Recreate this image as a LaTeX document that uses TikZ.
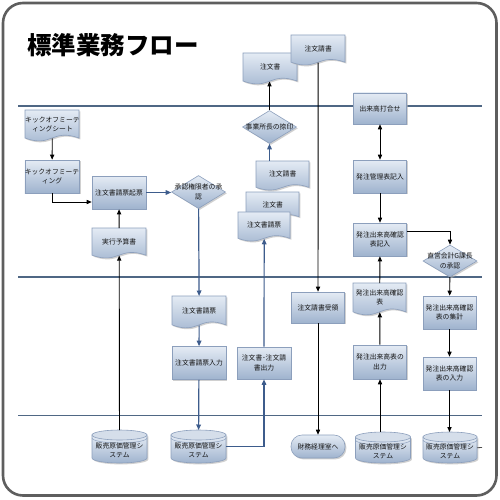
\documentclass[tikz,border=0pt]{standalone}
\usepackage{fontspec}
\setmainfont{Noto Sans CJK JP}
\usetikzlibrary{shapes.geometric,shadows,arrows.meta}
\definecolor{nodetop}{HTML}{E4EBF4}
\definecolor{nodebot}{HTML}{9FB3CE}
\definecolor{nodeedge}{HTML}{8C9FBC}
\definecolor{cyltopcol}{HTML}{D5DEEA}
\definecolor{flowblue}{HTML}{3D5C8C}
\definecolor{lanecol}{HTML}{4F6784}
\definecolor{framecol}{HTML}{5E5E5E}
\definecolor{textcol}{HTML}{141414}
\newcommand\nodefont{\fontsize{6.8}{9.4}\selectfont}
\newcommand\titlefnt{\fontsize{24.5}{27}\selectfont\bfseries}
\tikzset{
  shapefill/.style={top color=nodetop, bottom color=nodebot, draw=nodeedge, line width=0.6pt,
    drop shadow={shadow xshift=1.4pt, shadow yshift=-1.4pt, fill=black!30, opacity=0.6}},
  lblnode/.style={inner sep=0pt, align=center, font=\nodefont, text=textcol},
  proc/.style={shapefill, rectangle, minimum width=54pt, minimum height=33pt, lblnode},
  diam/.style={shapefill, diamond, minimum width=54pt, minimum height=33pt, inner sep=0pt},
  term/.style={shapefill, rectangle, rounded corners=11pt, minimum width=54pt, minimum height=23pt, lblnode},
  cyltop/.style={fill=cyltopcol, draw=nodeedge, line width=0.6pt},
  laneline/.style={draw=lanecol, line width=1.4pt},
  frameline/.style={draw=framecol, line width=2.6pt, rounded corners=20pt},
  blk/.style={draw=black, line width=0.9pt, -{Triangle[length=5pt,width=4.2pt]}},
  blu/.style={draw=flowblue, line width=1.2pt, -{Triangle[length=5.5pt,width=4.6pt]}},
}
% document shape: name, left x, top y, w, h, text
\newcommand\docshape[6]{%
  \path[shapefill] (#2,#3) -- ({#2+#4},#3) -- ({#2+#4},{#3+0.85*#5})
    .. controls ({#2+0.5*#4},{#3+0.55*#5}) and ({#2+0.5*#4},{#3+1.15*#5}) .. (#2,{#3+0.85*#5}) -- cycle;
  \node[lblnode, anchor=north west, minimum width=#4pt, minimum height={0.85*#5pt}] (#1) at (#2,#3) {#6};
}
% cylinder: name, centre x, top y, w, h, text
\newcommand\cylshape[6]{%
  \path[shapefill] ({#2-#4/2},{#3+5}) -- ({#2-#4/2},{#3+#5-5})
    .. controls ({#2-#4/2},{#3+#5-2.24}) and ({#2-0.276*#4},{#3+#5}) .. (#2,{#3+#5})
    .. controls ({#2+0.276*#4},{#3+#5}) and ({#2+#4/2},{#3+#5-2.24}) .. ({#2+#4/2},{#3+#5-5})
    -- ({#2+#4/2},{#3+5}) -- cycle;
  \path[cyltop] (#2,{#3+5}) ellipse [x radius={#4/2}, y radius=5];
  \draw[nodeedge, line width=0.5pt] ({#2-#4/2},{#3+8})
    .. controls ({#2-#4/2},{#3+10.76}) and ({#2-0.276*#4},{#3+13}) .. (#2,{#3+13})
    .. controls ({#2+0.276*#4},{#3+13}) and ({#2+#4/2},{#3+10.76}) .. ({#2+#4/2},{#3+8});
  \node[inner sep=0pt, anchor=north, minimum width=#4pt, minimum height=#5pt] (#1) at (#2,#3) {};
  \node[lblnode] (#1-t) at (#2,{#3+0.62*#5}) {#6};
}
\begin{document}
\begin{tikzpicture}[x=1pt,y=-1pt]
\useasboundingbox (0,0) rectangle (500,500);
\fill[white] (0,0) rectangle (500,500);
\draw[frameline] (3,3) rectangle (496.5,495.5);
\node[anchor=west, font=\titlefnt, text=black, inner sep=0pt] (title) at (27,45) {標準業務フロー};

% lanes
\draw[laneline] (18,106) -- (482,106);
\draw[laneline] (18,277) -- (482,277);
\draw[laneline] (18,415.5) -- (482,415.5);

% left column
\docshape{sheet}{25}{110}{54}{33}{キックオフミーテ\\ィングシート}
\node[proc] (kom) at (52,176.5) {キックオフミーテ\\ィング};
\node[proc] (kihyo) at (119,192.5) {注文書請票起票};
\docshape{yosan}{92}{228}{54}{32}{実行予算書}
\cylshape{cyl1}{119.5}{430}{55}{33}{販売原価管理シ\\ステム}

% approval column
\node[diam] (shonin) at (198.5,192) {};
\node[lblnode] (shonin-t) at (198.5,192) {承認権限者の承\\認};
\docshape{seihyo}{172}{296}{54}{34}{注文書請票}
\node[proc] (nyuryoku) at (199,363) {注文書請票入力};
\cylshape{cyl2}{198.5}{430}{55}{33}{販売原価管理シ\\ステム}

% order documents column
\docshape{chumonsho}{243}{53}{54}{33}{注文書}
\docshape{seisho}{291}{35}{54}{32}{注文請書}
\node[diam] (natsuin) at (269.5,127) {};
\node[lblnode] (natsuin-t) at (269.5,127) {事業所長の捺印};
\docshape{seisho2}{256}{161}{53}{31}{注文請書}
\docshape{chumonsho2}{246}{192}{53}{29}{注文書}
\docshape{seihyo2}{238}{212}{52}{31}{注文書請票}
\node[proc, minimum height=32pt] (shutsu) at (264,363) {注文書･注文請\\書出力};

\node[proc, minimum width=53pt, minimum height=31pt] (juryo) at (318,307.5) {注文請書受領};
\node[term] (zaimu) at (318,446.5) {財務経理室へ};

% progress column
\node[proc, minimum width=53pt, minimum height=31pt] (uchiawase) at (380,108.5) {出来高打合せ};
\node[proc, minimum width=53pt] (kanri) at (380,176.5) {発注管理表記入};
\node[proc, minimum width=53pt] (kkinyu) at (380,239.5) {発注出来高確認\\表記入};
\docshape{kdoc}{353}{283}{53}{34}{発注出来高確認\\表}
\node[proc, minimum width=53pt, minimum height=34pt] (dekshutsu) at (380,362) {発注出来高表の\\出力};
\cylshape{cyl3}{383}{432}{55}{31}{販売原価管理シ\\ステム}

\node[diam, minimum height=32pt] (kacho) at (450,261) {};
\node[lblnode] (kacho-t) at (450,261) {直営会計G課長\\の承認};
\node[proc, minimum width=53pt] (shukei) at (449.5,312.5) {発注出来高確認\\表の集計};
\node[proc, minimum width=53pt] (nyu2) at (449.5,373.5) {発注出来高確認\\表の入力};
\cylshape{cyl4}{450}{432}{54}{31}{販売原価管理シ\\ステム}
\coordinate (stub) at (482,447.5);

% connectors
\draw[blk] (sheet) -- (kom);
\draw[blk] (kom.south) |- ([yshift=-9.5pt]kihyo.west);
\draw[blk] (yosan) -- (kihyo);
\draw[blk] (cyl1) -- (yosan);
\draw[blu] (kihyo.east) -- (kihyo.east -| shonin.west);
\draw[blu] (shonin) -- (seihyo);
\draw[blu] (seihyo) -- (nyuryoku);
\draw[blu] (nyuryoku) -- (cyl2);
\draw[blu] (cyl2.east) -| (shutsu.south);
\draw[blu] (shutsu) -- (seihyo2);
\draw[blu] (seisho2.north -| natsuin.south) -- (natsuin.south);
\draw[blk] (natsuin.north) -- (chumonsho.south -| natsuin.north);
\draw[blk] (seisho) -- (juryo);
\draw[blk] (juryo) -- (zaimu);
\draw[blk, {Triangle[length=5pt,width=4.2pt]}-{Triangle[length=5pt,width=4.2pt]}] (uchiawase) -- (kanri);
\draw[blk] (kanri) -- (kkinyu);
\draw[blk] ([yshift=8.5pt]kkinyu.east) -| (kacho.north);
\draw[blk] (kacho) -- (shukei);
\draw[blk] (shukei) -- (nyu2);
\draw[blk] (nyu2) -- (cyl4.north -| nyu2.south);
\draw[blk] (cyl3.north -| dekshutsu.south) -- (dekshutsu.south);
\draw[blk] (dekshutsu) -- (kdoc);
\draw[blk] (kdoc) -- (kkinyu);
\draw[draw=black!70, line width=0.8pt] (cyl4.east) -- (stub);
\end{tikzpicture}
\end{document}
